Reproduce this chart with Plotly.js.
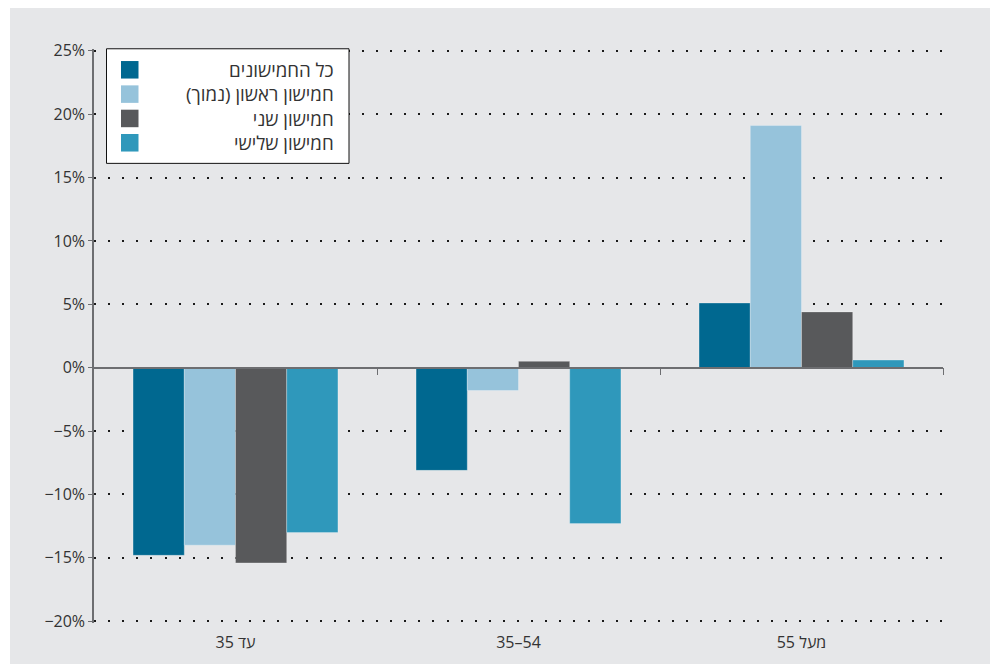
<!DOCTYPE html>
<html>
<head>
<meta charset="utf-8">
<script src="https://cdn.plot.ly/plotly-3.0.1.min.js"></script>
<style>
  html, body { margin: 0; padding: 0; background: #ffffff; }
  #frame { position: absolute; left: 10px; top: 8px; width: 980px; height: 656px; background: #e6e7e9; }
  #chart { position: absolute; left: 0; top: 0; width: 990px; height: 664px; }
</style>
</head>
<body>
<div id="frame"></div>
<div id="chart"></div>
<script>
// Age groups on the category axis
const categories = ['עד 35', '35–54', 'מעל 55'];

// Series (quintiles) and their colours
const seriesNames = ['כל החמישונים', 'חמישון ראשון (נמוך)', 'חמישון שני', 'חמישון שלישי'];
const seriesColors = ['#006890', '#96c3db', '#58595b', '#2f98bb'];

// Change by age group, in percent
const allQuintiles = [-14.8, -8.1, 5.1];
const firstQuintile = [-14.0, -1.8, 19.1];
const secondQuintile = [-15.4, 0.5, 4.4];
const thirdQuintile = [-13.0, -12.3, 0.6];

const seriesValues = [allQuintiles, firstQuintile, secondQuintile, thirdQuintile];

const yMin = -20, yMax = 25;
const W = 990, H = 664;
// Axis box from -20% (y=621) to 25% (y=51); the range is padded a little so the
// end gridlines are not clipped, and the margins are widened to match.
const pxPerUnit = 570 / (yMax - yMin);
const yPad = 0.14;
const padPx = yPad * pxPerUnit;
const M = { l: 94, r: 47, t: 51 - padPx, b: 43 - padPx };
const plotW = W - M.l - M.r, plotH = H - M.t - M.b;
const px = x => (x - M.l) / plotW;
const py = y => (H - M.b - y) / plotH;

const axisGrey = '#6d6e71';
const textColor = '#333333';
const font = '"Open Sans", "DejaVu Sans", sans-serif';
const RLM = '\u200F';

const traces = seriesNames.map((name, i) => ({
  type: 'bar',
  name: name,
  x: categories,
  y: seriesValues[i],
  marker: { color: seriesColors[i], line: { color: 'rgba(255,255,255,0.35)', width: 0.8 } },
  hoverinfo: 'x+y+name'
}));

// Empty helper trace so the zero-line axis (x2) gets drawn
traces.push({
  type: 'scatter', mode: 'markers', x: [], y: [],
  xaxis: 'x2', yaxis: 'y', showlegend: false, hoverinfo: 'skip'
});

// Hand-built legend: white box, square swatches, right-aligned Hebrew labels
const legendFont = 18.7;            // line height 1.3 * size = row pitch
const rowPitch = legendFont * 1.3;
const firstRow = 70;
const shapes = [{
  type: 'rect', xref: 'paper', yref: 'paper',
  x0: px(106.5), x1: px(349), y0: py(163.5), y1: py(49),
  fillcolor: '#ffffff', line: { color: '#111111', width: 1 }
}];
seriesNames.forEach((name, i) => {
  const cy = firstRow + i * rowPitch;
  shapes.push({
    type: 'rect', xref: 'paper', yref: 'paper',
    x0: px(121), x1: px(138.5), y0: py(cy + 8.75), y1: py(cy - 8.75),
    fillcolor: seriesColors[i], line: { width: 0 }
  });
});
const annotations = [{
  xref: 'paper', yref: 'paper',
  x: px(335), y: py(firstRow + 1.5 * rowPitch),
  xanchor: 'right', yanchor: 'middle', align: 'right',
  showarrow: false, borderpad: 0,
  text: seriesNames.map(n => RLM + n + RLM).join('<br>'),
  font: { family: font, size: legendFont, color: textColor }
}];

const layout = {
  width: W, height: H,
  margin: M,
  paper_bgcolor: 'rgba(0,0,0,0)',
  plot_bgcolor: 'rgba(0,0,0,0)',
  font: { family: font, size: 16, color: textColor },
  barmode: 'group',
  bargap: 0.276,
  bargroupgap: 0,
  showlegend: false,
  xaxis: {
    type: 'category',
    range: [-0.5, 2.5],
    showline: false, showgrid: false, zeroline: false,
    ticks: 'outside', ticklen: 7 - padPx, tickcolor: 'rgba(0,0,0,0)',
    tickfont: { family: font, size: 16, color: textColor }
  },
  // Zero line with boundary ticks between age groups
  xaxis2: {
    overlaying: 'x', anchor: 'free',
    position: (0 - (yMin - yPad)) / ((yMax + yPad) - (yMin - yPad)),
    range: [-0.5, 2.5],
    tickmode: 'array', tickvals: [0.5, 1.5, 2.5],
    ticks: 'outside', ticklen: 7, tickwidth: 1, tickcolor: axisGrey,
    showticklabels: false, showgrid: false, zeroline: false,
    showline: true, linecolor: axisGrey, linewidth: 1.6
  },
  yaxis: {
    range: [yMin - yPad, yMax + yPad],
    dtick: 5, tick0: 0,
    ticksuffix: '%',
    showline: true, linecolor: axisGrey, linewidth: 1.5,
    ticks: 'outside', ticklen: 4, tickwidth: 1, tickcolor: axisGrey,
    showgrid: true, gridcolor: '#1a1a1a', gridwidth: 2, griddash: '2px,12.1px',
    zeroline: false,
    tickfont: { family: font, size: 16, color: textColor }
  },
  shapes: shapes,
  annotations: annotations
};

Plotly.newPlot('chart', traces, layout, { displayModeBar: false, responsive: false });
</script>
</body>
</html>
